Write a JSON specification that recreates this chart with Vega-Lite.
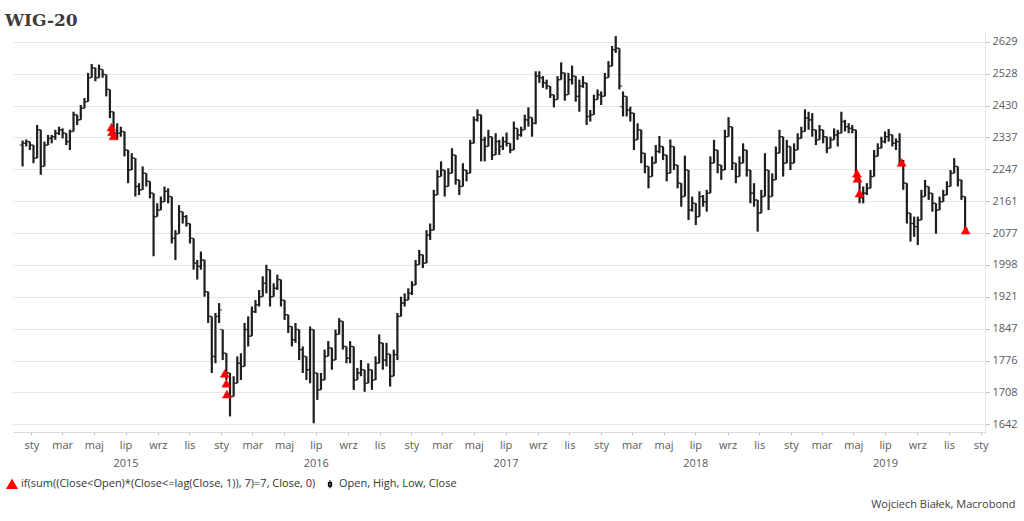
{
"$schema": "https://vega.github.io/schema/vega-lite/v6.json",
"width": 972, "height": 400,
"autosize": {"type": "none"},
"padding": {"left": 13, "top": 32, "right": 39, "bottom": 89},
"background": "white",
"title": {"text": "WIG-20", "anchor": "start", "frame": "group", "dx": -8, "dy": 20, "offset": 9, "baseline": "alphabetic", "font": "DejaVu Serif", "fontSize": 17, "fontWeight": "bold", "color": "#3c3c3c"},
"config": {
 "view": {"stroke": null},
 "axisX": {"labelFont": "Open Sans", "labelFontSize": 11, "labelColor": "#595959", "tickColor": "#bfbfbf", "tickSize": 3, "domainColor": "#d9d9d9", "grid": false, "labelPadding": 4, "labelLineHeight": 18, "labelFlush": false, "labelOverlap": false, "labelBound": false},
 "axisY": {"labelFont": "Open Sans", "labelFontSize": 11, "labelColor": "#595959", "tickColor": "#bfbfbf", "tickSize": 4, "domainColor": "#e6e6e6", "gridColor": "#e6e6e6", "grid": true, "labelPadding": 3, "title": null},
 "legend": {"labelFont": "Open Sans", "labelFontSize": 11, "labelColor": "#333333", "labelLimit": 500, "symbolSize": 100, "symbolStrokeWidth": 1.2, "columnPadding": 8, "labelOffset": 3}
},
"datasets": {
"ohlc": [
{"d":"2014-12-15","o":2315,"h":2328,"l":2255,"c":2320},
{"d":"2014-12-22","o":2320,"h":2331,"l":2311,"c":2325},
{"d":"2014-12-29","o":2325,"h":2325,"l":2301,"c":2315},
{"d":"2015-01-05","o":2315,"h":2315,"l":2264,"c":2278},
{"d":"2015-01-12","o":2278,"h":2373,"l":2278,"c":2359},
{"d":"2015-01-19","o":2359,"h":2359,"l":2232,"c":2255},
{"d":"2015-01-26","o":2255,"h":2325,"l":2255,"c":2315},
{"d":"2015-02-02","o":2315,"h":2344,"l":2315,"c":2334},
{"d":"2015-02-09","o":2334,"h":2344,"l":2320,"c":2339},
{"d":"2015-02-16","o":2339,"h":2359,"l":2330,"c":2349},
{"d":"2015-02-23","o":2349,"h":2368,"l":2344,"c":2359},
{"d":"2015-03-02","o":2359,"h":2363,"l":2334,"c":2349},
{"d":"2015-03-09","o":2349,"h":2349,"l":2315,"c":2325},
{"d":"2015-03-16","o":2325,"h":2359,"l":2301,"c":2354},
{"d":"2015-03-23","o":2354,"h":2412,"l":2354,"c":2403},
{"d":"2015-03-30","o":2403,"h":2403,"l":2373,"c":2388},
{"d":"2015-04-06","o":2388,"h":2432,"l":2388,"c":2422},
{"d":"2015-04-13","o":2422,"h":2453,"l":2422,"c":2442},
{"d":"2015-04-20","o":2442,"h":2530,"l":2442,"c":2515},
{"d":"2015-04-27","o":2515,"h":2558,"l":2515,"c":2546},
{"d":"2015-05-04","o":2546,"h":2546,"l":2504,"c":2515},
{"d":"2015-05-11","o":2515,"h":2556,"l":2515,"c":2541},
{"d":"2015-05-18","o":2541,"h":2541,"l":2515,"c":2525},
{"d":"2015-05-25","o":2525,"h":2525,"l":2458,"c":2479},
{"d":"2015-06-01","o":2479,"h":2479,"l":2393,"c":2412},
{"d":"2015-06-08","o":2412,"h":2412,"l":2339,"c":2350},
{"d":"2015-06-15","o":2350,"h":2378,"l":2330,"c":2349},
{"d":"2015-06-22","o":2349,"h":2368,"l":2339,"c":2354},
{"d":"2015-06-29","o":2354,"h":2354,"l":2283,"c":2301},
{"d":"2015-07-06","o":2301,"h":2301,"l":2209,"c":2245},
{"d":"2015-07-13","o":2245,"h":2292,"l":2245,"c":2278},
{"d":"2015-07-20","o":2278,"h":2278,"l":2173,"c":2200},
{"d":"2015-07-27","o":2200,"h":2209,"l":2177,"c":2191},
{"d":"2015-08-03","o":2191,"h":2255,"l":2191,"c":2236},
{"d":"2015-08-10","o":2236,"h":2236,"l":2200,"c":2214},
{"d":"2015-08-17","o":2214,"h":2214,"l":2168,"c":2182},
{"d":"2015-08-24","o":2182,"h":2182,"l":2019,"c":2120},
{"d":"2015-08-31","o":2120,"h":2155,"l":2120,"c":2137},
{"d":"2015-09-07","o":2137,"h":2173,"l":2137,"c":2159},
{"d":"2015-09-14","o":2159,"h":2200,"l":2159,"c":2187},
{"d":"2015-09-21","o":2187,"h":2195,"l":2155,"c":2173},
{"d":"2015-09-28","o":2173,"h":2173,"l":2051,"c":2064},
{"d":"2015-10-05","o":2064,"h":2085,"l":2010,"c":2076},
{"d":"2015-10-12","o":2076,"h":2150,"l":2076,"c":2133},
{"d":"2015-10-19","o":2133,"h":2133,"l":2102,"c":2120},
{"d":"2015-10-26","o":2120,"h":2124,"l":2094,"c":2102},
{"d":"2015-11-02","o":2102,"h":2102,"l":2051,"c":2064},
{"d":"2015-11-09","o":2064,"h":2064,"l":1986,"c":2002},
{"d":"2015-11-16","o":2002,"h":2010,"l":1962,"c":1994},
{"d":"2015-11-23","o":1994,"h":2031,"l":1986,"c":2010},
{"d":"2015-11-30","o":2010,"h":2010,"l":1921,"c":1933},
{"d":"2015-12-07","o":1933,"h":1933,"l":1860,"c":1875},
{"d":"2015-12-14","o":1875,"h":1875,"l":1749,"c":1785},
{"d":"2015-12-21","o":1785,"h":1883,"l":1770,"c":1875},
{"d":"2015-12-28","o":1875,"h":1906,"l":1860,"c":1890},
{"d":"2016-01-04","o":1845,"h":1845,"l":1777,"c":1792},
{"d":"2016-01-11","o":1792,"h":1792,"l":1734,"c":1749},
{"d":"2016-01-18","o":1749,"h":1749,"l":1658,"c":1699},
{"d":"2016-01-25","o":1699,"h":1742,"l":1699,"c":1727},
{"d":"2016-02-01","o":1727,"h":1785,"l":1727,"c":1770},
{"d":"2016-02-08","o":1770,"h":1792,"l":1734,"c":1763},
{"d":"2016-02-15","o":1763,"h":1860,"l":1763,"c":1845},
{"d":"2016-02-22","o":1845,"h":1875,"l":1807,"c":1830},
{"d":"2016-02-29","o":1830,"h":1898,"l":1830,"c":1886},
{"d":"2016-03-07","o":1886,"h":1913,"l":1883,"c":1902},
{"d":"2016-03-14","o":1902,"h":1937,"l":1898,"c":1921},
{"d":"2016-03-21","o":1921,"h":1970,"l":1921,"c":1953},
{"d":"2016-03-28","o":1953,"h":1998,"l":1929,"c":1986},
{"d":"2016-04-04","o":1986,"h":1986,"l":1898,"c":1921},
{"d":"2016-04-11","o":1921,"h":1953,"l":1921,"c":1941},
{"d":"2016-04-18","o":1941,"h":1974,"l":1937,"c":1962},
{"d":"2016-04-25","o":1962,"h":1962,"l":1898,"c":1913},
{"d":"2016-05-02","o":1913,"h":1913,"l":1867,"c":1879},
{"d":"2016-05-09","o":1879,"h":1879,"l":1837,"c":1852},
{"d":"2016-05-16","o":1852,"h":1852,"l":1807,"c":1822},
{"d":"2016-05-23","o":1822,"h":1860,"l":1815,"c":1845},
{"d":"2016-05-30","o":1845,"h":1845,"l":1777,"c":1800},
{"d":"2016-06-06","o":1800,"h":1807,"l":1749,"c":1785},
{"d":"2016-06-13","o":1785,"h":1785,"l":1734,"c":1756},
{"d":"2016-06-20","o":1756,"h":1852,"l":1727,"c":1845},
{"d":"2016-06-27","o":1845,"h":1845,"l":1644,"c":1749},
{"d":"2016-07-04","o":1749,"h":1749,"l":1692,"c":1713},
{"d":"2016-07-11","o":1713,"h":1749,"l":1713,"c":1734},
{"d":"2016-07-18","o":1734,"h":1800,"l":1734,"c":1785},
{"d":"2016-07-25","o":1785,"h":1819,"l":1785,"c":1804},
{"d":"2016-08-01","o":1804,"h":1804,"l":1756,"c":1777},
{"d":"2016-08-08","o":1777,"h":1845,"l":1777,"c":1834},
{"d":"2016-08-15","o":1834,"h":1871,"l":1834,"c":1864},
{"d":"2016-08-22","o":1864,"h":1864,"l":1800,"c":1807},
{"d":"2016-08-29","o":1807,"h":1807,"l":1770,"c":1781},
{"d":"2016-09-05","o":1781,"h":1819,"l":1770,"c":1807},
{"d":"2016-09-12","o":1807,"h":1807,"l":1713,"c":1734},
{"d":"2016-09-19","o":1734,"h":1760,"l":1734,"c":1749},
{"d":"2016-09-26","o":1749,"h":1777,"l":1742,"c":1756},
{"d":"2016-10-03","o":1756,"h":1756,"l":1709,"c":1727},
{"d":"2016-10-10","o":1727,"h":1770,"l":1727,"c":1756},
{"d":"2016-10-17","o":1756,"h":1756,"l":1713,"c":1734},
{"d":"2016-10-24","o":1734,"h":1785,"l":1734,"c":1770},
{"d":"2016-10-31","o":1770,"h":1834,"l":1770,"c":1815},
{"d":"2016-11-07","o":1815,"h":1815,"l":1756,"c":1777},
{"d":"2016-11-14","o":1777,"h":1815,"l":1763,"c":1790},
{"d":"2016-11-21","o":1790,"h":1790,"l":1720,"c":1742},
{"d":"2016-11-28","o":1742,"h":1800,"l":1742,"c":1789},
{"d":"2016-12-05","o":1789,"h":1883,"l":1777,"c":1875},
{"d":"2016-12-12","o":1875,"h":1921,"l":1875,"c":1906},
{"d":"2016-12-19","o":1906,"h":1929,"l":1898,"c":1913},
{"d":"2016-12-26","o":1913,"h":1941,"l":1913,"c":1929},
{"d":"2017-01-02","o":1929,"h":1958,"l":1925,"c":1949},
{"d":"2017-01-09","o":1949,"h":2010,"l":1949,"c":1998},
{"d":"2017-01-16","o":1998,"h":2035,"l":1998,"c":2023},
{"d":"2017-01-23","o":2023,"h":2023,"l":1990,"c":2002},
{"d":"2017-01-30","o":2002,"h":2085,"l":2002,"c":2072},
{"d":"2017-02-06","o":2072,"h":2102,"l":2060,"c":2085},
{"d":"2017-02-13","o":2085,"h":2191,"l":2085,"c":2177},
{"d":"2017-02-20","o":2177,"h":2245,"l":2177,"c":2227},
{"d":"2017-02-27","o":2227,"h":2269,"l":2227,"c":2245},
{"d":"2017-03-06","o":2245,"h":2245,"l":2173,"c":2200},
{"d":"2017-03-13","o":2200,"h":2250,"l":2200,"c":2236},
{"d":"2017-03-20","o":2236,"h":2306,"l":2236,"c":2287},
{"d":"2017-03-27","o":2287,"h":2287,"l":2205,"c":2218},
{"d":"2017-04-03","o":2218,"h":2218,"l":2177,"c":2200},
{"d":"2017-04-10","o":2200,"h":2264,"l":2200,"c":2245},
{"d":"2017-04-17","o":2245,"h":2245,"l":2214,"c":2236},
{"d":"2017-04-24","o":2236,"h":2330,"l":2236,"c":2320},
{"d":"2017-05-01","o":2320,"h":2398,"l":2320,"c":2388},
{"d":"2017-05-08","o":2388,"h":2419,"l":2383,"c":2403},
{"d":"2017-05-15","o":2403,"h":2403,"l":2269,"c":2330},
{"d":"2017-05-22","o":2330,"h":2339,"l":2269,"c":2311},
{"d":"2017-05-29","o":2311,"h":2359,"l":2311,"c":2339},
{"d":"2017-06-05","o":2339,"h":2339,"l":2273,"c":2287},
{"d":"2017-06-12","o":2287,"h":2349,"l":2287,"c":2325},
{"d":"2017-06-19","o":2325,"h":2330,"l":2287,"c":2311},
{"d":"2017-06-26","o":2311,"h":2339,"l":2301,"c":2325},
{"d":"2017-07-03","o":2325,"h":2351,"l":2311,"c":2320},
{"d":"2017-07-10","o":2320,"h":2320,"l":2292,"c":2301},
{"d":"2017-07-17","o":2301,"h":2383,"l":2301,"c":2363},
{"d":"2017-07-24","o":2363,"h":2363,"l":2330,"c":2344},
{"d":"2017-07-31","o":2344,"h":2368,"l":2339,"c":2359},
{"d":"2017-08-07","o":2359,"h":2403,"l":2359,"c":2388},
{"d":"2017-08-14","o":2388,"h":2425,"l":2368,"c":2395},
{"d":"2017-08-21","o":2395,"h":2395,"l":2339,"c":2378},
{"d":"2017-08-28","o":2378,"h":2535,"l":2375,"c":2520},
{"d":"2017-09-04","o":2520,"h":2535,"l":2499,"c":2515},
{"d":"2017-09-11","o":2515,"h":2520,"l":2484,"c":2499},
{"d":"2017-09-18","o":2499,"h":2509,"l":2479,"c":2489},
{"d":"2017-09-25","o":2489,"h":2489,"l":2453,"c":2463},
{"d":"2017-10-02","o":2463,"h":2463,"l":2425,"c":2448},
{"d":"2017-10-09","o":2448,"h":2520,"l":2448,"c":2509},
{"d":"2017-10-16","o":2509,"h":2563,"l":2509,"c":2530},
{"d":"2017-10-23","o":2530,"h":2530,"l":2445,"c":2463},
{"d":"2017-10-30","o":2463,"h":2530,"l":2463,"c":2509},
{"d":"2017-11-06","o":2509,"h":2553,"l":2494,"c":2520},
{"d":"2017-11-13","o":2520,"h":2520,"l":2442,"c":2458},
{"d":"2017-11-20","o":2458,"h":2509,"l":2412,"c":2489},
{"d":"2017-11-27","o":2489,"h":2520,"l":2484,"c":2499},
{"d":"2017-12-04","o":2499,"h":2499,"l":2373,"c":2398},
{"d":"2017-12-11","o":2398,"h":2417,"l":2383,"c":2403},
{"d":"2017-12-18","o":2403,"h":2463,"l":2403,"c":2448},
{"d":"2017-12-25","o":2448,"h":2479,"l":2448,"c":2463},
{"d":"2018-01-01","o":2463,"h":2473,"l":2432,"c":2458},
{"d":"2018-01-08","o":2458,"h":2530,"l":2458,"c":2515},
{"d":"2018-01-15","o":2515,"h":2567,"l":2515,"c":2551},
{"d":"2018-01-22","o":2551,"h":2615,"l":2551,"c":2603},
{"d":"2018-01-29","o":2603,"h":2647,"l":2593,"c":2608},
{"d":"2018-02-05","o":2608,"h":2608,"l":2479,"c":2489},
{"d":"2018-02-12","o":2427,"h":2473,"l":2398,"c":2458},
{"d":"2018-02-19","o":2458,"h":2458,"l":2398,"c":2417},
{"d":"2018-02-26","o":2417,"h":2427,"l":2383,"c":2408},
{"d":"2018-03-05","o":2408,"h":2408,"l":2301,"c":2330},
{"d":"2018-03-12","o":2330,"h":2378,"l":2330,"c":2359},
{"d":"2018-03-19","o":2359,"h":2359,"l":2264,"c":2292},
{"d":"2018-03-26","o":2292,"h":2292,"l":2236,"c":2255},
{"d":"2018-04-02","o":2255,"h":2255,"l":2195,"c":2227},
{"d":"2018-04-09","o":2227,"h":2283,"l":2227,"c":2264},
{"d":"2018-04-16","o":2264,"h":2315,"l":2264,"c":2297},
{"d":"2018-04-23","o":2297,"h":2341,"l":2292,"c":2311},
{"d":"2018-04-30","o":2311,"h":2311,"l":2273,"c":2287},
{"d":"2018-05-07","o":2287,"h":2287,"l":2214,"c":2236},
{"d":"2018-05-14","o":2236,"h":2331,"l":2236,"c":2311},
{"d":"2018-05-21","o":2311,"h":2311,"l":2245,"c":2259},
{"d":"2018-05-28","o":2259,"h":2259,"l":2195,"c":2209},
{"d":"2018-06-04","o":2209,"h":2209,"l":2146,"c":2173},
{"d":"2018-06-11","o":2173,"h":2285,"l":2173,"c":2245},
{"d":"2018-06-18","o":2245,"h":2245,"l":2111,"c":2137},
{"d":"2018-06-25","o":2137,"h":2173,"l":2133,"c":2155},
{"d":"2018-07-02","o":2155,"h":2155,"l":2098,"c":2120},
{"d":"2018-07-09","o":2120,"h":2187,"l":2120,"c":2173},
{"d":"2018-07-16","o":2173,"h":2177,"l":2146,"c":2159},
{"d":"2018-07-23","o":2159,"h":2191,"l":2133,"c":2182},
{"d":"2018-07-30","o":2182,"h":2283,"l":2182,"c":2264},
{"d":"2018-08-06","o":2264,"h":2330,"l":2264,"c":2301},
{"d":"2018-08-13","o":2301,"h":2301,"l":2236,"c":2259},
{"d":"2018-08-20","o":2259,"h":2259,"l":2218,"c":2245},
{"d":"2018-08-27","o":2245,"h":2359,"l":2245,"c":2339},
{"d":"2018-09-03","o":2339,"h":2396,"l":2339,"c":2368},
{"d":"2018-09-10","o":2368,"h":2368,"l":2245,"c":2264},
{"d":"2018-09-17","o":2264,"h":2264,"l":2209,"c":2227},
{"d":"2018-09-24","o":2227,"h":2283,"l":2227,"c":2264},
{"d":"2018-10-01","o":2264,"h":2320,"l":2264,"c":2301},
{"d":"2018-10-08","o":2301,"h":2301,"l":2227,"c":2245},
{"d":"2018-10-15","o":2245,"h":2245,"l":2155,"c":2182},
{"d":"2018-10-22","o":2182,"h":2209,"l":2146,"c":2164},
{"d":"2018-10-29","o":2164,"h":2164,"l":2081,"c":2129},
{"d":"2018-11-05","o":2129,"h":2191,"l":2129,"c":2173},
{"d":"2018-11-12","o":2173,"h":2292,"l":2173,"c":2245},
{"d":"2018-11-19","o":2245,"h":2245,"l":2137,"c":2173},
{"d":"2018-11-26","o":2173,"h":2236,"l":2173,"c":2218},
{"d":"2018-12-03","o":2218,"h":2311,"l":2218,"c":2292},
{"d":"2018-12-10","o":2292,"h":2359,"l":2292,"c":2339},
{"d":"2018-12-17","o":2339,"h":2339,"l":2227,"c":2264},
{"d":"2018-12-24","o":2264,"h":2330,"l":2264,"c":2311},
{"d":"2018-12-31","o":2311,"h":2311,"l":2245,"c":2264},
{"d":"2019-01-07","o":2264,"h":2320,"l":2264,"c":2301},
{"d":"2019-01-14","o":2301,"h":2349,"l":2301,"c":2334},
{"d":"2019-01-21","o":2334,"h":2368,"l":2334,"c":2354},
{"d":"2019-01-28","o":2354,"h":2419,"l":2354,"c":2393},
{"d":"2019-02-04","o":2393,"h":2412,"l":2359,"c":2388},
{"d":"2019-02-11","o":2388,"h":2408,"l":2339,"c":2359},
{"d":"2019-02-18","o":2359,"h":2359,"l":2315,"c":2330},
{"d":"2019-02-25","o":2330,"h":2373,"l":2330,"c":2359},
{"d":"2019-03-04","o":2359,"h":2359,"l":2320,"c":2339},
{"d":"2019-03-11","o":2339,"h":2339,"l":2292,"c":2306},
{"d":"2019-03-18","o":2306,"h":2339,"l":2306,"c":2330},
{"d":"2019-03-25","o":2330,"h":2363,"l":2330,"c":2344},
{"d":"2019-04-01","o":2344,"h":2359,"l":2311,"c":2349},
{"d":"2019-04-08","o":2349,"h":2412,"l":2349,"c":2383},
{"d":"2019-04-15","o":2383,"h":2388,"l":2354,"c":2368},
{"d":"2019-04-22","o":2368,"h":2378,"l":2349,"c":2363},
{"d":"2019-04-29","o":2363,"h":2373,"l":2349,"c":2359},
{"d":"2019-05-06","o":2359,"h":2359,"l":2215,"c":2222},
{"d":"2019-05-13","o":2222,"h":2222,"l":2155,"c":2170},
{"d":"2019-05-20","o":2170,"h":2200,"l":2155,"c":2182},
{"d":"2019-05-27","o":2182,"h":2209,"l":2177,"c":2195},
{"d":"2019-06-03","o":2195,"h":2245,"l":2195,"c":2227},
{"d":"2019-06-10","o":2227,"h":2301,"l":2227,"c":2283},
{"d":"2019-06-17","o":2283,"h":2320,"l":2283,"c":2306},
{"d":"2019-06-24","o":2306,"h":2339,"l":2306,"c":2325},
{"d":"2019-07-01","o":2325,"h":2354,"l":2320,"c":2339},
{"d":"2019-07-08","o":2339,"h":2361,"l":2325,"c":2345},
{"d":"2019-07-15","o":2345,"h":2345,"l":2311,"c":2320},
{"d":"2019-07-22","o":2320,"h":2334,"l":2301,"c":2325},
{"d":"2019-07-29","o":2325,"h":2349,"l":2262,"c":2266},
{"d":"2019-08-05","o":2266,"h":2273,"l":2191,"c":2209},
{"d":"2019-08-12","o":2209,"h":2209,"l":2102,"c":2129},
{"d":"2019-08-19","o":2129,"h":2129,"l":2056,"c":2102},
{"d":"2019-08-26","o":2102,"h":2120,"l":2068,"c":2094},
{"d":"2019-09-02","o":2094,"h":2120,"l":2047,"c":2111},
{"d":"2019-09-09","o":2111,"h":2191,"l":2111,"c":2173},
{"d":"2019-09-16","o":2173,"h":2218,"l":2173,"c":2200},
{"d":"2019-09-23","o":2200,"h":2200,"l":2164,"c":2182},
{"d":"2019-09-30","o":2182,"h":2182,"l":2133,"c":2155},
{"d":"2019-10-07","o":2155,"h":2155,"l":2076,"c":2137},
{"d":"2019-10-14","o":2137,"h":2173,"l":2137,"c":2159},
{"d":"2019-10-21","o":2159,"h":2191,"l":2159,"c":2177},
{"d":"2019-10-28","o":2177,"h":2214,"l":2177,"c":2200},
{"d":"2019-11-04","o":2200,"h":2245,"l":2200,"c":2236},
{"d":"2019-11-11","o":2236,"h":2278,"l":2236,"c":2255},
{"d":"2019-11-18","o":2255,"h":2255,"l":2200,"c":2218},
{"d":"2019-11-25","o":2218,"h":2218,"l":2164,"c":2173},
{"d":"2019-12-02","o":2173,"h":2173,"l":2085,"c":2089}
],
"sig": [
{"d":"2015-06-04","v":2367,"s":"if(sum((Close<Open)*(Close<=lag(Close, 1)), 7)=7, Close, 0)"},
{"d":"2015-06-05","v":2353,"s":"if(sum((Close<Open)*(Close<=lag(Close, 1)), 7)=7, Close, 0)"},
{"d":"2015-06-08","v":2341,"s":"if(sum((Close<Open)*(Close<=lag(Close, 1)), 7)=7, Close, 0)"},
{"d":"2016-01-08","v":1748,"s":"if(sum((Close<Open)*(Close<=lag(Close, 1)), 7)=7, Close, 0)"},
{"d":"2016-01-11","v":1727,"s":"if(sum((Close<Open)*(Close<=lag(Close, 1)), 7)=7, Close, 0)"},
{"d":"2016-01-12","v":1704,"s":"if(sum((Close<Open)*(Close<=lag(Close, 1)), 7)=7, Close, 0)"},
{"d":"2019-05-08","v":2236,"s":"if(sum((Close<Open)*(Close<=lag(Close, 1)), 7)=7, Close, 0)"},
{"d":"2019-05-09","v":2222,"s":"if(sum((Close<Open)*(Close<=lag(Close, 1)), 7)=7, Close, 0)"},
{"d":"2019-05-13","v":2182,"s":"if(sum((Close<Open)*(Close<=lag(Close, 1)), 7)=7, Close, 0)"},
{"d":"2019-08-02","v":2266,"s":"if(sum((Close<Open)*(Close<=lag(Close, 1)), 7)=7, Close, 0)"},
{"d":"2019-12-03","v":2085,"s":"if(sum((Close<Open)*(Close<=lag(Close, 1)), 7)=7, Close, 0)"}
]
},
"encoding": {
 "x": {"field": "d", "type": "temporal",
  "scale": {"type": "utc", "domain": [{"year": 2014, "month": 11, "date": 26, "hours": 14, "utc": true}, {"year": 2020, "month": 1, "date": 9, "hours": 7, "utc": true}]},
  "axis": {
   "values": [
    {"year":2015,"month":1,"date":1,"utc":true},{"year":2015,"month":3,"date":1,"utc":true},{"year":2015,"month":5,"date":1,"utc":true},{"year":2015,"month":7,"date":1,"utc":true},{"year":2015,"month":9,"date":1,"utc":true},{"year":2015,"month":11,"date":1,"utc":true},
    {"year":2016,"month":1,"date":1,"utc":true},{"year":2016,"month":3,"date":1,"utc":true},{"year":2016,"month":5,"date":1,"utc":true},{"year":2016,"month":7,"date":1,"utc":true},{"year":2016,"month":9,"date":1,"utc":true},{"year":2016,"month":11,"date":1,"utc":true},
    {"year":2017,"month":1,"date":1,"utc":true},{"year":2017,"month":3,"date":1,"utc":true},{"year":2017,"month":5,"date":1,"utc":true},{"year":2017,"month":7,"date":1,"utc":true},{"year":2017,"month":9,"date":1,"utc":true},{"year":2017,"month":11,"date":1,"utc":true},
    {"year":2018,"month":1,"date":1,"utc":true},{"year":2018,"month":3,"date":1,"utc":true},{"year":2018,"month":5,"date":1,"utc":true},{"year":2018,"month":7,"date":1,"utc":true},{"year":2018,"month":9,"date":1,"utc":true},{"year":2018,"month":11,"date":1,"utc":true},
    {"year":2019,"month":1,"date":1,"utc":true},{"year":2019,"month":3,"date":1,"utc":true},{"year":2019,"month":5,"date":1,"utc":true},{"year":2019,"month":7,"date":1,"utc":true},{"year":2019,"month":9,"date":1,"utc":true},{"year":2019,"month":11,"date":1,"utc":true},
    {"year":2020,"month":1,"date":1,"utc":true}
   ],
   "labelExpr": "utcmonth(datum.value) == 6 ? ['lip', '' + utcyear(datum.value)] : ['sty','lut','mar','kwi','maj','cze','lip','sie','wrz','paź','lis','gru'][utcmonth(datum.value)]",
   "title": "Wojciech Białek, Macrobond",
   "titleX": 1002, "titleY": 75, "titleAlign": "right", "titleBaseline": "alphabetic",
   "titleFont": "Open Sans", "titleFontSize": 11, "titleFontWeight": "normal", "titleColor": "#404040"
  }
 }
},
"layer": [
 {"data": {"name": "ohlc"},
  "mark": {"type": "rule", "color": "#1e1e1e", "strokeWidth": 2.2},
  "encoding": {
   "y": {"field": "l", "type": "quantitative",
    "scale": {"type": "log", "domain": [1626.5, 2660.5], "nice": false, "zero": false},
    "axis": {"orient": "right", "values": [1642,1708,1776,1847,1921,1998,2077,2161,2247,2337,2430,2528,2629], "format": "d", "title": null}},
   "y2": {"field": "h"}
  }},
 {"data": {"name": "ohlc"},
  "mark": {"type": "tick", "orient": "horizontal", "size": 3, "thickness": 1.3, "xOffset": -1.5, "color": "#1e1e1e"},
  "encoding": {"y": {"field": "o", "type": "quantitative", "axis": {"title": null}}}},
 {"data": {"name": "ohlc"},
  "mark": {"type": "tick", "orient": "horizontal", "size": 3, "thickness": 1.3, "xOffset": 1.5, "color": "#1e1e1e"},
  "encoding": {"y": {"field": "c", "type": "quantitative", "axis": {"title": null}}}},
 {"data": {"name": "sig"},
  "mark": {"type": "point", "filled": true, "size": 80, "opacity": 1, "strokeWidth": 0.5},
  "encoding": {
   "y": {"field": "v", "type": "quantitative", "axis": {"title": null}},
   "fill": {"field": "s", "type": "nominal",
    "scale": {"domain": ["if(sum((Close<Open)*(Close<=lag(Close, 1)), 7)=7, Close, 0)", "Open, High, Low, Close"], "range": ["#ff0000", "#ffffff"]},
    "legend": {"orient": "none", "legendX": -7, "legendY": 446, "direction": "horizontal", "title": null}},
   "stroke": {"field": "s", "type": "nominal",
    "scale": {"domain": ["if(sum((Close<Open)*(Close<=lag(Close, 1)), 7)=7, Close, 0)", "Open, High, Low, Close"], "range": ["#ff0000", "#000000"]},
    "legend": {"orient": "none", "legendX": -7, "legendY": 446, "direction": "horizontal", "title": null}},
   "shape": {"field": "s", "type": "nominal",
    "scale": {"domain": ["if(sum((Close<Open)*(Close<=lag(Close, 1)), 7)=7, Close, 0)", "Open, High, Low, Close"], "range": ["triangle-up", "M0,-0.8V0.8M-0.3,-0.35H0.3V0.35H-0.3Z"]},
    "legend": {"orient": "none", "legendX": -7, "legendY": 446, "direction": "horizontal", "title": null}}
  }}
]
}
